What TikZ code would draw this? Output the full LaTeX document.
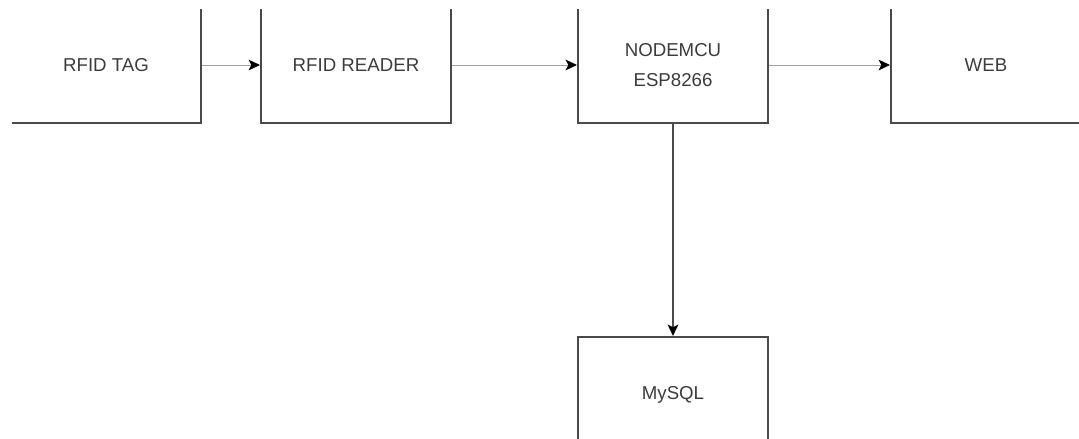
\documentclass[tikz,border=0pt]{standalone}
\usepackage{fontspec}
\setmainfont{Liberation Sans}
\usetikzlibrary{arrows.meta}
\definecolor{boxline}{HTML}{4A4A4A}
\definecolor{txt}{HTML}{3C3C3C}
\definecolor{thinline}{HTML}{A0A0A0}
\tikzset{
  blk/.style={draw=boxline, line width=1.6pt, rectangle, inner sep=0pt,
    minimum width=142.5pt, minimum height=87pt, text=txt, align=center,
    font=\fontsize{14}{22}\selectfont},
  flow/.style={draw=thinline, line width=0.7pt,
    -{Stealth[length=8.5pt, width=8pt, inset=2pt, color=black]}},
  flowdark/.style={draw=boxline, line width=1.3pt,
    -{Stealth[length=8.5pt, width=8pt, inset=2pt, color=black]}},
}
\begin{document}
\begin{tikzpicture}[x=0.75pt, y=-0.75pt]
\useasboundingbox (0,0) rectangle (1079,439);
\fill[white] (0,0) rectangle (1079,439);
\begin{scope}
\clip (12,9) rectangle (1079,439);
\node[blk] (tag) at (106,65) {RFID TAG};
\node[blk] (reader) at (356,65) {RFID READER};
\node[blk] (mcu) at (673,65) {NODEMCU\\ESP8266};
\node[blk] (web) at (986,65) {WEB};
\node[blk] (sql) at (673,395) {MySQL};
\end{scope}
\draw[flow] (tag.east) -- (reader.west);
\draw[flow] (reader.east) -- (mcu.west);
\draw[flow] (mcu.east) -- (web.west);
\draw[flowdark] (mcu.south) -- (sql.north);
\end{tikzpicture}
\end{document}
